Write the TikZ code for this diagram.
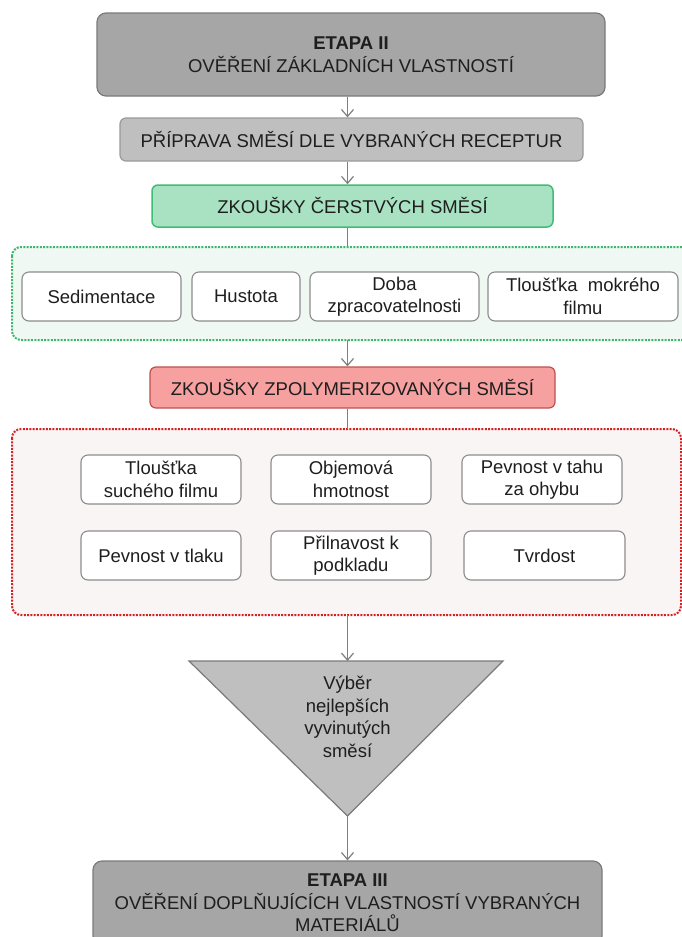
\documentclass[tikz,border=0pt]{standalone}
\usepackage{fontspec}
\setmainfont{Liberation Sans}
\usetikzlibrary{arrows.meta}
\definecolor{txt}{HTML}{1E1E1E}
\definecolor{darkfill}{HTML}{A6A6A6}
\definecolor{darkline}{HTML}{7A7A7A}
\definecolor{lightfill}{HTML}{BFBFBF}
\definecolor{lightline}{HTML}{9A9A9A}
\definecolor{greenfill}{HTML}{A8E2C2}
\definecolor{greenline}{HTML}{3DBE74}
\definecolor{greenbg}{HTML}{F0F8F3}
\definecolor{greendot}{HTML}{3CB86A}
\definecolor{redfill}{HTML}{F6A0A0}
\definecolor{redline}{HTML}{C0504D}
\definecolor{redbg}{HTML}{F9F5F5}
\definecolor{reddot}{HTML}{D42222}
\definecolor{boxline}{HTML}{8C8C8C}
\definecolor{arrowc}{HTML}{7F7F7F}
\begin{document}
\begin{tikzpicture}[x=1pt,y=-1pt,
  font=\fontsize{18.5}{22.5}\selectfont, text=txt,
  stage/.style={draw=darkline, fill=darkfill, line width=1.2pt, rounded corners=9pt, align=center, inner sep=0pt},
  prepbox/.style={draw=lightline, fill=lightfill, line width=1.2pt, rounded corners=6pt, align=center, inner sep=0pt},
  greenbox/.style={draw=greenline, fill=greenfill, line width=1.5pt, rounded corners=6pt, align=center, inner sep=0pt},
  redbox/.style={draw=redline, fill=redfill, line width=1.2pt, rounded corners=6pt, align=center, inner sep=0pt},
  testbox/.style={draw=boxline, fill=white, line width=1.1pt, rounded corners=7pt, align=center, inner sep=0pt, minimum height=49pt},
  conn/.style={draw=arrowc, line width=1.2pt},
  arr/.style={conn, -{Straight Barb[length=7pt,width=12pt]}},
]
\useasboundingbox (0,0) rectangle (682,937);
\fill[white] (0,0) rectangle (682,937);
\coordinate (axis) at (347.5,0);

% top stage
\node[stage, minimum width=508pt, minimum height=83pt] (etapa2) at (351,54.5)
  {\textbf{ETAPA II}\\OVĚŘENÍ ZÁKLADNÍCH VLASTNOSTÍ};
\node[prepbox, minimum width=463pt, minimum height=43pt] (prep) at (351.5,139.5)
  {PŘÍPRAVA SMĚSÍ DLE VYBRANÝCH RECEPTUR};
\node[greenbox, minimum width=401pt, minimum height=42pt] (fresh) at (352.5,206)
  {ZKOUŠKY ČERSTVÝCH SMĚSÍ};

% green container
\draw[greendot, fill=greenbg, line width=2pt, dash pattern=on 2pt off 1.3pt, rounded corners=9pt]
  (12,247) rectangle (700,340);
\coordinate (gtop) at (347.5,247);
\coordinate (gbot) at (347.5,340);
\node[testbox, minimum width=159pt] (sed) at (101.5,296.5) {Sedimentace};
\node[testbox, minimum width=108pt] (hus) at (246,296.5) {Hustota};
\node[testbox, minimum width=169pt] (doba) at (394.5,296.5) {Doba\\zpracovatelnosti};
\node[testbox, minimum width=190pt] (mok) at (583,296.5) {Tloušťka\ \ mokrého\\filmu};

\node[redbox, minimum width=405pt, minimum height=41pt] (poly) at (352.5,387.5)
  {ZKOUŠKY ZPOLYMERIZOVANÝCH SMĚSÍ};

% red container
\draw[reddot, fill=redbg, line width=2pt, dash pattern=on 2pt off 1.3pt, rounded corners=9pt]
  (12,429) rectangle (681,615);
\coordinate (rtop) at (347.5,429);
\coordinate (rbot) at (347.5,615);
\node[testbox, minimum width=160pt] (such) at (161,479.5) {Tloušťka\\suchého filmu};
\node[testbox, minimum width=160pt] (obj) at (351,479.5) {Objemová\\hmotnost};
\node[testbox, minimum width=160pt] (ohyb) at (542,479.5) {Pevnost v tahu\\za ohybu};
\node[testbox, minimum width=160pt] (tlak) at (161,555.5) {Pevnost v tlaku};
\node[testbox, minimum width=160pt] (pril) at (351,555.5) {Přilnavost k\\podkladu};
\node[testbox, minimum width=161pt] (tvrd) at (544.5,555.5) {Tvrdost};

% triangle
\coordinate (triL) at (189,661);
\coordinate (triR) at (503,661);
\coordinate (triB) at (347.5,816);
\coordinate (triT) at (347.5,661);
\draw[darkline, fill=lightfill, line width=1.2pt, line join=miter] (triL) -- (triR) -- (triB) -- cycle;
\node[align=center, inner sep=0pt] (sel) at (347.5,717) {Výběr\\nejlepších\\vyvinutých\\směsí};

% bottom stage
\node[stage, minimum width=509pt, minimum height=84pt] (etapa3) at (347.5,903)
  {\textbf{ETAPA III}\\OVĚŘENÍ DOPLŇUJÍCÍCH VLASTNOSTÍ VYBRANÝCH\\MATERIÁLŮ};

% connectors
\draw[arr] (etapa2.south -| axis) -- (prep.north -| axis);
\draw[arr] (prep.south -| axis) -- (fresh.north -| axis);
\draw[conn] (fresh.south -| axis) -- (gtop);
\draw[arr] (gbot) -- (poly.north -| axis);
\draw[conn] (poly.south -| axis) -- (rtop);
\draw[arr] (rbot) -- (triT);
\draw[arr] (triB) -- (etapa3.north -| triB);
\end{tikzpicture}
\end{document}
